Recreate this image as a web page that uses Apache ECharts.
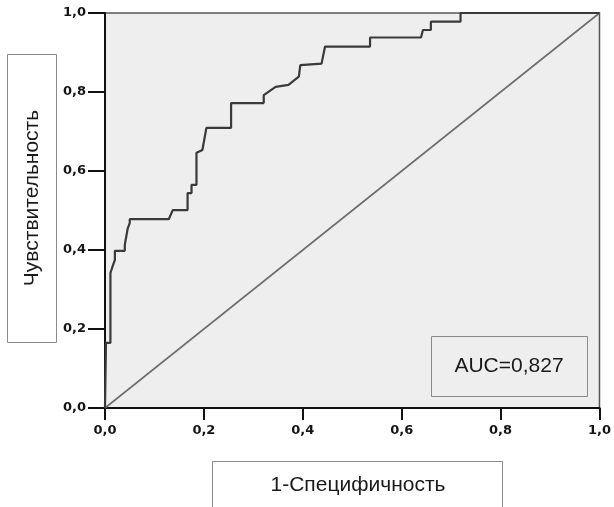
<!DOCTYPE html>
<html>
<head>
<meta charset="utf-8">
<script src="https://cdn.jsdelivr.net/npm/echarts@6/dist/echarts.min.js"></script>
<style>
  html, body { margin: 0; padding: 0; background: #fff; }
  #main { width: 614px; height: 507px; }
</style>
</head>
<body>
<div id="main"></div>
<script>
// ROC-кривая: точки ступенчатой линии (1-специфичность, чувствительность)
var fpr = [0, 0.002, 0.002, 0.011, 0.011, 0.015, 0.02, 0.02, 0.04, 0.04, 0.046, 0.05, 0.05, 0.129, 0.137, 0.167, 0.167,
    0.175, 0.175, 0.185, 0.185, 0.197, 0.205, 0.255, 0.255, 0.321, 0.321, 0.345, 0.371, 0.392, 0.395, 0.438,
    0.445, 0.536, 0.536, 0.639, 0.643, 0.659, 0.659, 0.719, 0.719, 1.0];
var tpr = [0, 0, 0.165, 0.165, 0.342, 0.357, 0.375, 0.398, 0.398, 0.413, 0.455, 0.468, 0.478, 0.478, 0.501, 0.501, 0.544,
    0.544, 0.565, 0.565, 0.646, 0.653, 0.709, 0.709, 0.772, 0.772, 0.792, 0.813, 0.818, 0.839, 0.868, 0.872,
    0.915, 0.915, 0.938, 0.938, 0.957, 0.957, 0.978, 0.978, 1.0, 1.0];
var diagX = [0, 1];
var diagY = [0, 1];
var aucText = 'AUC=0,827';
var xTitle = '1-Специфичность';
var yTitle = 'Чувствительность';

function pairs(xs, ys) {
    var out = [];
    for (var i = 0; i < xs.length; i++) {
        out.push([xs[i], ys[i]]);
    }
    return out;
}

function fmt(v) {
    return v.toFixed(1).replace('.', ',');
}

var chart = echarts.init(document.getElementById('main'));

var axisCommon = {
    type: 'value',
    min: 0,
    max: 1,
    interval: 0.2,
    splitLine: { show: false },
    axisLine: { show: true, onZero: false, lineStyle: { color: '#111', width: 2 } },
    axisTick: { show: true, inside: false, lineStyle: { color: '#111', width: 2 } },
    axisLabel: {
        formatter: fmt,
        color: '#151515',
        fontFamily: 'DejaVu Sans',
        fontWeight: 'bold',
        fontSize: 13
    }
};

var option = {
    animation: false,
    backgroundColor: '#ffffff',
    grid: {
        left: 105, right: 11, top: 13, bottom: 99,
        show: true,
        backgroundColor: '#eeeeee',
        borderColor: '#555',
        borderWidth: 1.5
    },
    xAxis: echarts.util.merge({
        axisTick: { length: 12 },
        axisLabel: { margin: 16 }
    }, axisCommon),
    yAxis: echarts.util.merge({
        axisTick: { length: 17 },
        axisLabel: { margin: 19 }
    }, axisCommon),
    series: [
        {
            type: 'line',
            data: pairs(diagX, diagY),
            symbol: 'none',
            lineStyle: { color: '#6e6e6e', width: 1.6 },
            z: 2
        },
        {
            type: 'line',
            data: pairs(fpr, tpr),
            symbol: 'none',
            lineStyle: { color: '#3a3a3a', width: 2.2 },
            z: 3
        }
    ],
    graphic: [
        // подпись оси Y в рамке
        {
            type: 'rect',
            shape: { x: 7.5, y: 54.5, width: 49, height: 288 },
            style: { fill: 'none', stroke: '#8a8a8a', lineWidth: 1 }
        },
        {
            type: 'text',
            x: 32, y: 198,
            rotation: Math.PI / 2,
            style: {
                text: yTitle,
                fill: '#1a1a1a',
                font: '21px "Liberation Sans", Arial, sans-serif',
                textAlign: 'center',
                textVerticalAlign: 'middle'
            }
        },
        // подпись оси X в рамке
        {
            type: 'rect',
            shape: { x: 212.5, y: 461.5, width: 290, height: 60 },
            style: { fill: 'none', stroke: '#8a8a8a', lineWidth: 1 }
        },
        {
            type: 'text',
            x: 358, y: 485,
            style: {
                text: xTitle,
                fill: '#1a1a1a',
                font: '21px "Liberation Sans", Arial, sans-serif',
                textAlign: 'center',
                textVerticalAlign: 'middle'
            }
        },
        // AUC
        {
            type: 'rect',
            shape: { x: 431.5, y: 336.5, width: 156, height: 60 },
            style: { fill: 'none', stroke: '#8a8a8a', lineWidth: 1 },
            z: 10
        },
        {
            type: 'text',
            x: 509, y: 366,
            style: {
                text: aucText,
                fill: '#1a1a1a',
                font: '21px "Liberation Sans", Arial, sans-serif',
                textAlign: 'center',
                textVerticalAlign: 'middle'
            },
            z: 10
        }
    ]
};

chart.setOption(option);
</script>
</body>
</html>
